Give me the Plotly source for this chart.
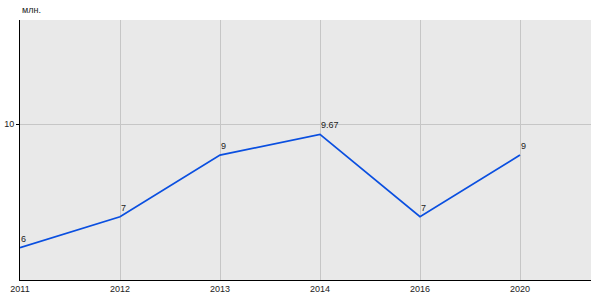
import plotly.graph_objects as go

years = ["2011", "2012", "2013", "2014", "2016", "2020"]
values = [6, 7, 9, 9.67, 7, 9]
value_labels = ["6", "7", "9", "9.67", "7", "9"]
y_ticks = [10]
y_tick_labels = ["10"]
unit_label = "млн."

FONT = "Liberation Sans, Arial"
fig = go.Figure()
fig.add_trace(go.Scatter(
    x=list(range(len(years))), y=values, mode="lines",
    line=dict(color="#0a4fe0", width=1.8), hoverinfo="skip", showlegend=False,
))
for i, (v, t) in enumerate(zip(values, value_labels)):
    fig.add_annotation(x=i, y=v, text=t, showarrow=False, xanchor="left",
                       yanchor="bottom", xshift=-1, yshift=2,
                       font=dict(family=FONT, size=9, color="#222222"))
fig.add_annotation(x=0, y=1, xref="paper", yref="paper", text=unit_label, showarrow=False,
                   xanchor="left", yanchor="bottom", yshift=3,
                   font=dict(family=FONT, size=9, color="#222222"))

fig.update_layout(
    width=600, height=300, margin=dict(l=20, r=9, t=20, b=20, autoexpand=False),
    paper_bgcolor="white", plot_bgcolor="#e9e9e9",
    font=dict(family=FONT, size=9, color="#222222"),
)
fig.update_xaxes(
    range=[0, 5.71], tickmode="array", tickvals=list(range(len(years))), ticktext=years,
    showgrid=True, gridcolor="#c6c6c6", gridwidth=1, zeroline=False, automargin=False,
    showline=True, linecolor="black", linewidth=1, ticks="", ticklen=0,
    tickfont=dict(size=9, color="#222222"),
)
fig.update_yaxes(
    range=[4.95, 13.38], tickmode="array", tickvals=y_ticks, ticktext=y_tick_labels,
    showgrid=True, gridcolor="#c6c6c6", gridwidth=1, zeroline=False, automargin=False,
    showline=True, linecolor="black", linewidth=1, ticks="outside", ticklen=3, tickcolor="black",
    tickfont=dict(size=9, color="#222222"),
)
fig.write_html("out.html")
